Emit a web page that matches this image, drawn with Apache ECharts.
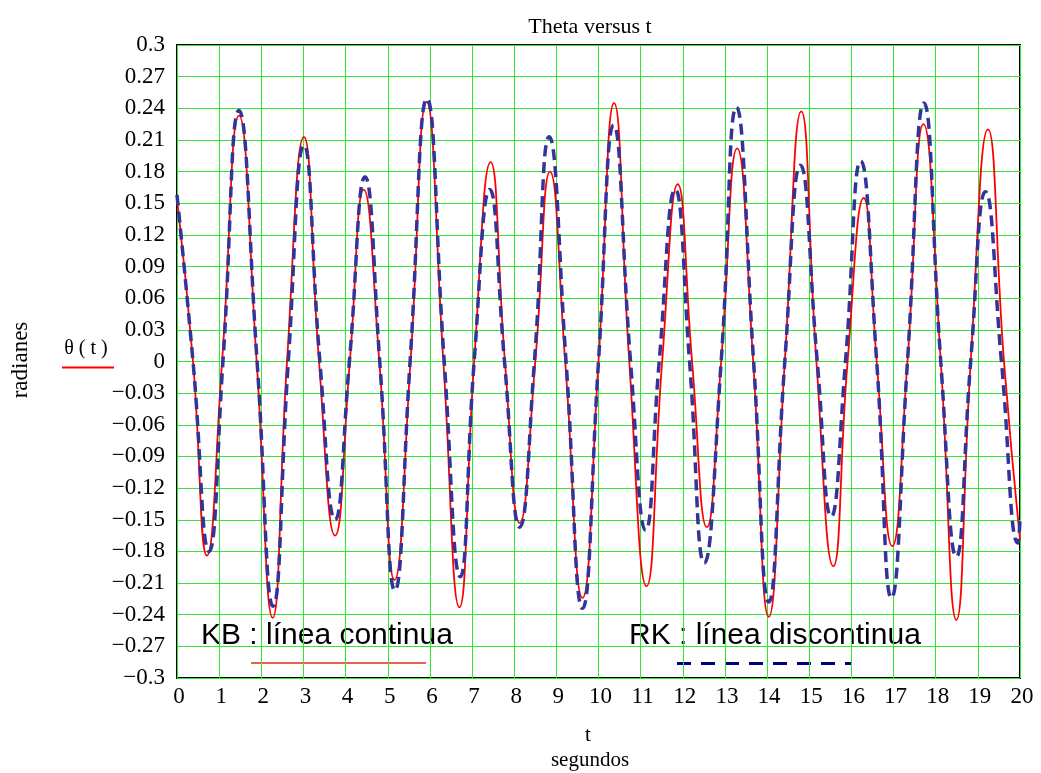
<!DOCTYPE html>
<html>
<head>
<meta charset="utf-8">
<script src="https://cdn.jsdelivr.net/npm/echarts@6/dist/echarts.min.js"></script>
<style>
  html, body { margin: 0; padding: 0; background: #fff; }
  #chart { width: 1041px; height: 773px; }
</style>
</head>
<body>
<div id="chart"></div>
<script>
// Pendulum angle (rad) over time (s): KB integration (solid) vs RK (dashed)
const kbTime = [0, 0.38, 0.71, 1.07, 1.47, 1.89, 2.27, 2.61, 3.01, 3.37, 3.75, 4.10, 4.43, 4.80, 5.16, 5.54,
  5.92, 6.32, 6.70, 7.05, 7.44, 7.78, 8.13, 8.50, 8.85, 9.21, 9.62, 10.00, 10.37, 10.73, 11.14, 11.51,
  11.88, 12.22, 12.57, 12.91, 13.29, 13.67, 14.04, 14.42, 14.81, 15.17, 15.57, 15.91, 16.29, 16.60,
  16.97, 17.33, 17.71, 18.12, 18.49, 18.83, 19.24, 19.62, 20];
const kbTheta = [0.155, 0, -0.184, 0, 0.233, 0, -0.243, 0, 0.213, 0, -0.165, 0, 0.163, 0, -0.207, 0,
  0.246, 0, -0.233, 0, 0.189, 0, -0.153, 0, 0.180, 0, -0.224, 0, 0.245, 0, -0.213, 0,
  0.168, 0, -0.157, 0, 0.202, 0, -0.242, 0, 0.237, 0, -0.194, 0, 0.155, 0,
  -0.175, 0, 0.225, 0, -0.245, 0, 0.220, 0, -0.169];

const rkTime = [0, 0.38, 0.76, 1.09, 1.47, 1.90, 2.28, 2.64, 3.01, 3.39, 3.75, 4.09, 4.46, 4.81, 5.17, 5.53,
  5.93, 6.34, 6.72, 7.05, 7.42, 7.77, 8.13, 8.48, 8.83, 9.23, 9.62, 10.00, 10.36, 10.76, 11.12, 11.44,
  11.82, 12.16, 12.51, 12.91, 13.27, 13.68, 14.04, 14.42, 14.79, 15.19, 15.52, 15.86, 16.22, 16.60,
  16.95, 17.33, 17.72, 18.12, 18.49, 18.83, 19.18, 19.56, 19.95, 20];
const rkTheta = [0.158, 0, -0.180, 0, 0.238, 0, -0.232, 0, 0.205, 0, -0.150, 0, 0.175, 0, -0.217, 0,
  0.249, 0, -0.204, 0, 0.163, 0, -0.157, 0, 0.213, 0, -0.234, 0, 0.224, 0, -0.160, 0,
  0.163, 0, -0.191, 0, 0.241, 0, -0.228, 0, 0.186, 0, -0.147, 0, 0.190, 0,
  -0.224, 0, 0.245, 0, -0.185, 0, 0.161, 0, -0.172, -0.150];

const serif = '"Liberation Serif", "Times New Roman", serif';
const sans = '"Liberation Sans", Arial, sans-serif';
const gridGreen = '#33e633';

const pairs = (xs, ys) => xs.map((x, i) => [x, ys[i]]);

const chart = echarts.init(document.getElementById('chart'), null, { renderer: 'canvas' });

chart.setOption({
  animation: false,
  backgroundColor: '#ffffff',
  grid: {
    left: 177, right: 21, top: 45, bottom: 95,
    show: true, borderColor: '#000', borderWidth: 2, backgroundColor: 'transparent'
  },
  xAxis: {
    type: 'value', min: 0, max: 20, interval: 1,
    axisLine: { show: false },
    axisTick: { show: false },
    axisLabel: { color: '#000', fontFamily: serif, fontSize: 23, margin: 7, padding: [0, 0, 0, 4] },
    splitLine: { show: true, lineStyle: { color: gridGreen, width: 1 } }
  },
  yAxis: {
    type: 'value', min: -0.3, max: 0.3, interval: 0.03,
    axisLine: { show: false },
    axisTick: { show: false },
    axisLabel: {
      color: '#000', fontFamily: serif, fontSize: 23, margin: 12,
      formatter: v => parseFloat(v.toFixed(2)).toString().replace('-', '\u2212')
    },
    splitLine: { show: true, lineStyle: { color: gridGreen, width: 1 } }
  },
  series: [
    {
      name: 'KB', type: 'line', data: pairs(kbTime, kbTheta),
      showSymbol: false, smooth: 0.5,
      lineStyle: { color: '#ff0000', width: 1.8 }
    },
    {
      name: 'RK', type: 'line', data: pairs(rkTime, rkTheta),
      showSymbol: false, smooth: 0.5,
      lineStyle: { color: '#333399', width: 3.5, type: [11, 6] }
    }
  ],
  graphic: [
    { type: 'text', x: 590, y: 27, style: { text: 'Theta versus t', font: '22px ' + serif, fill: '#000', align: 'center', verticalAlign: 'middle' } },
    { type: 'text', x: 21, y: 360, rotation: Math.PI / 2, style: { text: 'radianes', font: '23px ' + serif, fill: '#000', align: 'center', verticalAlign: 'middle' } },
    { type: 'text', x: 86, y: 349, style: { text: '\u03b8 ( t )', font: '20px ' + serif, fill: '#000', align: 'center', verticalAlign: 'middle' } },
    { type: 'line', shape: { x1: 62, y1: 367.5, x2: 114, y2: 367.5 }, style: { stroke: '#ff0000', lineWidth: 2 } },
    { type: 'text', x: 588, y: 735, style: { text: 't', font: '21px ' + serif, fill: '#000', align: 'center', verticalAlign: 'middle' } },
    { type: 'text', x: 590, y: 760, style: { text: 'segundos', font: '21px ' + serif, fill: '#000', align: 'center', verticalAlign: 'middle' } },
    { type: 'text', x: 201, y: 636, style: { text: 'KB : l\u00ednea continua', font: '30px ' + sans, fill: '#000', align: 'left', verticalAlign: 'middle' } },
    { type: 'line', shape: { x1: 251, y1: 663, x2: 426, y2: 663 }, style: { stroke: '#e02a1a', lineWidth: 1.5 } },
    { type: 'text', x: 629, y: 636, style: { text: 'RK : l\u00ednea discontinua', font: '30px ' + sans, fill: '#000', align: 'left', verticalAlign: 'middle' } },
    { type: 'line', shape: { x1: 677, y1: 663.5, x2: 851, y2: 663.5 }, style: { stroke: '#000080', lineWidth: 3, lineDash: [14, 10] } }
  ]
});
</script>
</body>
</html>
